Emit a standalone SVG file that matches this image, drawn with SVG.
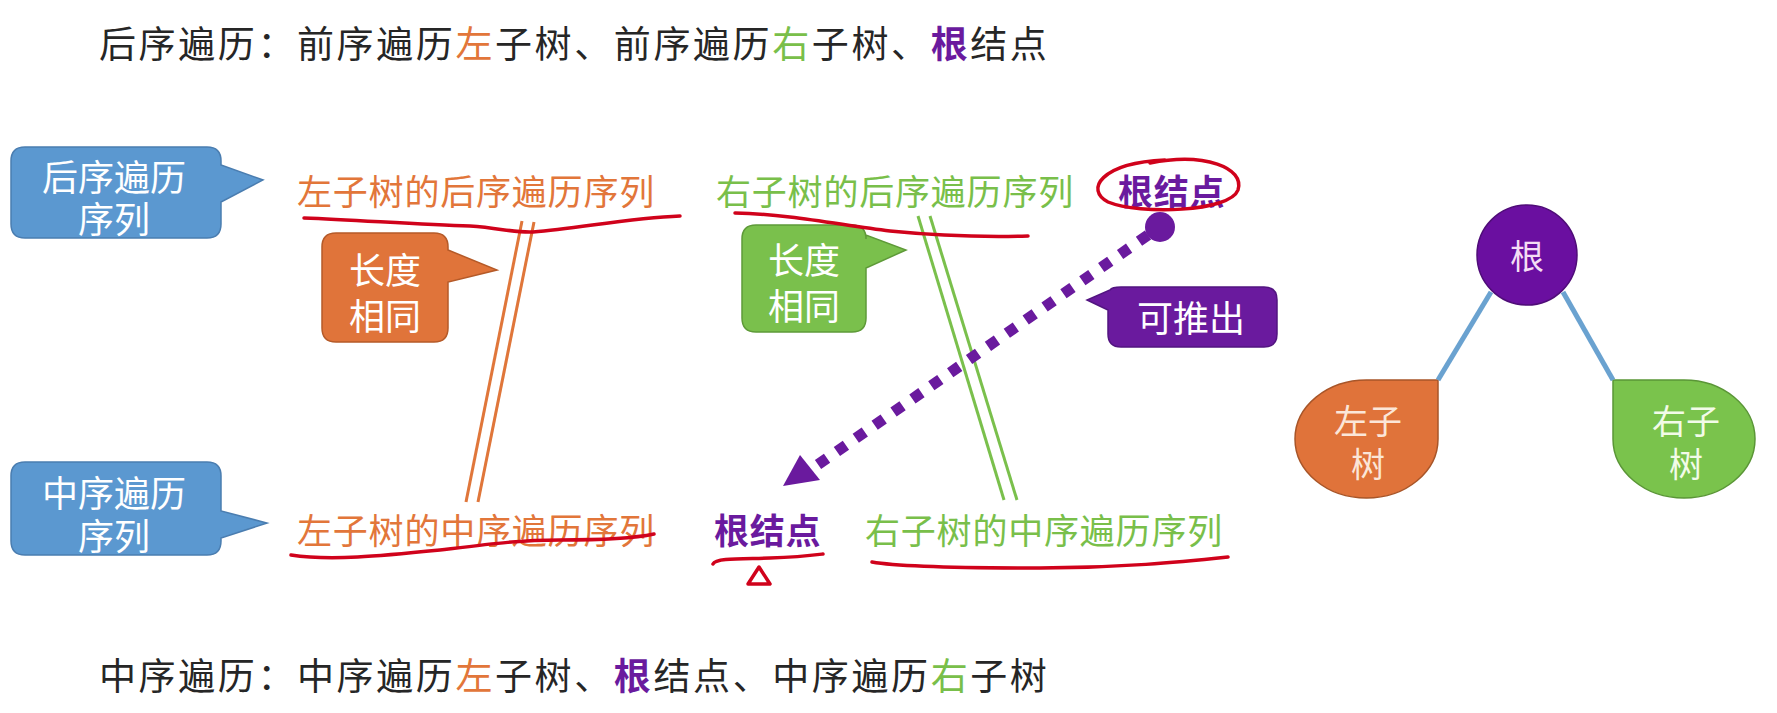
<svg xmlns="http://www.w3.org/2000/svg" width="1777" height="713" viewBox="0 0 1777 713">
  <style>
    text { font-family: "Noto Sans CJK SC", "Noto Sans", sans-serif; }
    .title { font-size: 37px; letter-spacing: 2.6px; fill: #262626; }
    .lbl { font-size: 35px; letter-spacing: 0.8px; dominant-baseline: central; }
    .orange { fill: #E2763A; }
    .green { fill: #79BF4A; }
    .purple { fill: #6A1A9E; }
    .bold { font-weight: bold; }
    .ctext { font-size: 36px; fill: #FFFFFF; text-anchor: middle; dominant-baseline: central; }
    .pen { fill: none; stroke: #D0021B; stroke-width: 3.5; stroke-linecap: round; stroke-linejoin: round; }
    .blue-call { fill: #5B98D0; stroke: #4A7DB0; stroke-width: 1.5; }
    .orange-call { fill: #E0743A; stroke: #B55A28; stroke-width: 1.5; }
    .green-call { fill: #7AC04C; stroke: #5E9A38; stroke-width: 1.5; }
    .purple-call { fill: #6A1A9E; stroke: #521480; stroke-width: 1.5; }
    .pair-o { stroke: #E0763A; stroke-width: 3; }
    .pair-g { stroke: #7AC04C; stroke-width: 3; }
    .edge { stroke: #6AA2D0; stroke-width: 5; }
    .leaf { font-size: 34px; }
  </style>

  <rect width="1777" height="713" fill="#FFFFFF"/>

  <!-- headline rule -->
  <g id="title-post">
    <text class="title" x="99" y="58">后序遍历：前序遍历<tspan class="orange">左</tspan>子树、前序遍历<tspan class="green">右</tspan>子树、<tspan class="purple bold">根</tspan>结点</text>
  </g>

  <!-- footer rule -->
  <g id="title-in">
    <text class="title" x="99" y="690">中序遍历：中序遍历<tspan class="orange">左</tspan>子树、<tspan class="purple bold">根</tspan>结点、中序遍历<tspan class="green">右</tspan>子树</text>
  </g>

  <!-- callout: post-order sequence -->
  <g id="callout-post">
    <path class="blue-call" d="M25,147 H207 Q221,147 221,161 V165 L263,180 L221,202 V224 Q221,238 207,238 H25 Q11,238 11,224 V161 Q11,147 25,147 Z"/>
    <text class="ctext" x="114" y="175">后序遍历</text>
    <text class="ctext" x="114" y="217">序列</text>
  </g>

  <!-- callout: in-order sequence -->
  <g id="callout-in">
    <path class="blue-call" d="M25,462 H207 Q221,462 221,476 V511 L267,523 L221,538 V541 Q221,555 207,555 H25 Q11,555 11,541 V476 Q11,462 25,462 Z"/>
    <text class="ctext" x="114" y="491">中序遍历</text>
    <text class="ctext" x="114" y="534">序列</text>
  </g>

  <!-- sequence labels, top row -->
  <g id="post-left">
    <text class="lbl orange" x="297" y="189">左子树的后序遍历序列</text>
  </g>
  <g id="post-right">
    <text class="lbl green" x="716" y="189">右子树的后序遍历序列</text>
  </g>
  <g id="post-root">
    <text class="lbl purple bold" x="1118" y="189">根结点</text>
  </g>

  <!-- sequence labels, bottom row -->
  <g id="in-left">
    <text class="lbl orange" x="297" y="528">左子树的中序遍历序列</text>
  </g>
  <g id="in-root">
    <text class="lbl purple bold" x="714" y="528">根结点</text>
  </g>
  <g id="in-right">
    <text class="lbl green" x="865" y="528">右子树的中序遍历序列</text>
  </g>

  <!-- callout: same length (left) -->
  <g id="same-left">
    <path class="orange-call" d="M336,233 H434 Q448,233 448,247 V250 L497,270 L448,282 V328 Q448,342 434,342 H336 Q322,342 322,328 V247 Q322,233 336,233 Z"/>
    <text class="ctext" x="385" y="268">长度</text>
    <text class="ctext" x="385" y="314">相同</text>
  </g>

  <!-- callout: same length (right) -->
  <g id="same-right">
    <path class="green-call" d="M756,225 H852 Q866,225 866,239 V235 L906,250 L866,268 V318 Q866,332 852,332 H756 Q742,332 742,318 V239 Q742,225 756,225 Z"/>
    <text class="ctext" x="804" y="258">长度</text>
    <text class="ctext" x="804" y="304">相同</text>
  </g>

  <!-- callout: derivable -->
  <g id="derive">
    <path class="purple-call" d="M1121,287 H1264 Q1277,287 1277,300 V334 Q1277,347 1264,347 H1121 Q1108,347 1108,334 V310 L1087,300 L1110,290 Q1112,287 1121,287 Z"/>
    <text class="ctext" x="1191" y="316">可推出</text>
  </g>

  <!-- small tree -->
  <g id="tree-root">
    <circle cx="1527" cy="255" r="50" fill="#6A0FA0" stroke="#4F0C78" stroke-width="1.5"/>
    <text class="ctext leaf" x="1527" y="254" style="fill:#F4DDF4">根</text>
  </g>
  <g id="tree-left">
    <path d="M1367,380 H1438 V439 A71.5,59 0 0 1 1366.5,498 A71.5,59 0 0 1 1295,439 A71.5,59 0 0 1 1367,380 Z" fill="#E0733A" stroke="#A85528" stroke-width="1.5"/>
    <text class="ctext leaf" x="1368" y="419" style="fill:#FBE6D8">左子</text>
    <text class="ctext leaf" x="1368" y="462" style="fill:#FBE6D8">树</text>
  </g>
  <g id="tree-right">
    <path d="M1684,380 H1613 V439 A71,59 0 0 0 1684,498 A71,59 0 0 0 1755,439 A71,59 0 0 0 1684,380 Z" fill="#7AC34C" stroke="#5A9636" stroke-width="1.5"/>
    <text class="ctext leaf" x="1686" y="419" style="fill:#F2FBE8">右子</text>
    <text class="ctext leaf" x="1686" y="462" style="fill:#F2FBE8">树</text>
  </g>

  <!-- connectors -->
  <g id="connectors">
    <!-- tree edges -->
    <line class="edge" x1="1491" y1="292" x2="1438" y2="380"/>
    <line class="edge" x1="1563" y1="292" x2="1613" y2="380"/>

    <!-- equal-length pairs -->
    <line class="pair-o" x1="522" y1="221" x2="466" y2="502"/>
    <line class="pair-o" x1="534" y1="222" x2="478" y2="502"/>
    <line class="pair-g" x1="918" y1="216" x2="1004" y2="500"/>
    <line class="pair-g" x1="930" y1="216" x2="1017" y2="500"/>

    <!-- derivation arrow -->
    <circle cx="1160" cy="227" r="15" fill="#6A1A9E"/>
    <line x1="1148" y1="235" x2="816" y2="466" stroke="#6A1A9E" stroke-width="11" stroke-dasharray="11 12"/>
    <path d="M783,486 L800,455 L820,480 Z" fill="#6A1A9E"/>

    <!-- pen marks -->
    <path class="pen" d="M304,218 C360,220 420,225 470,226 C500,228 515,233 533,232 C580,228 630,218 680,216"/>
    <path class="pen" d="M735,213 C790,214 840,225 890,231 C940,236 990,237 1028,236"/>
    <path class="pen" d="M1150,163 C1205,152 1245,168 1238,190 C1230,212 1140,215 1108,202 C1085,190 1100,163 1165,160"/>
    <path class="pen" d="M291,555 C330,561 380,556 440,550 C490,544 520,540 560,540 C610,540 640,537 654,534"/>
    <path class="pen" d="M713,564 C716,558 740,559 770,558 C800,557 815,555 823,554"/>
    <path class="pen" d="M748,584 L759,567 L770,584 Z" stroke-width="5"/>
    <path class="pen" d="M872,562 C900,567 960,568 1040,568 C1120,568 1180,562 1228,557"/>
  </g>
</svg>
